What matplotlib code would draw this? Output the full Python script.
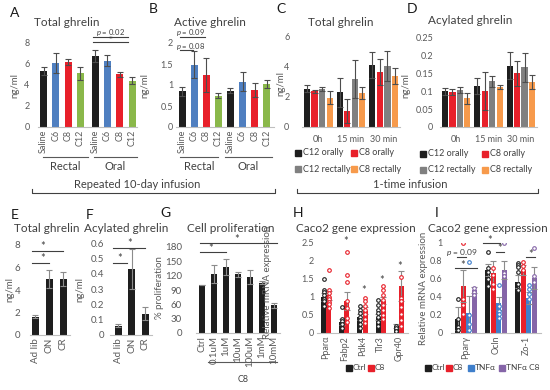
import matplotlib
matplotlib.use("Agg")
import matplotlib.pyplot as plt
from matplotlib.lines import Line2D
from matplotlib.patches import Rectangle
import numpy as np

plt.rcParams['font.family'] = ['Lato', 'DejaVu Sans']
plt.rcParams['mathtext.fontset'] = 'custom'
plt.rcParams['mathtext.it'] = 'Lato:italic'
plt.rcParams['mathtext.rm'] = 'Lato'

W, H = 550, 390

# ---------------- data ----------------
a_labels = ["Saline", "C6", "C8", "C12", "Saline", "C6", "C8", "C12"]
a_vals = [5.3, 6.1, 6.2, 5.1, 6.75, 6.3, 5.0, 4.4]
a_errs = [0.4, 0.95, 0.3, 0.6, 0.6, 0.55, 0.25, 0.35]

b_vals = [0.85, 1.48, 1.24, 0.75, 0.86, 1.08, 0.88, 1.02]
b_errs = [0.1, 0.32, 0.4, 0.05, 0.06, 0.22, 0.17, 0.1]

time_labels = ["0h", "15 min", "30 min"]
cd_series = ["C12 orally", "C8 orally", "C12 rectally", "C8 rectally"]
c_vals = [[2.55, 2.3, 4.13], [2.36, 1.07, 3.67], [2.53, 3.2, 4.07], [1.96, 2.24, 3.4]]
c_errs = [[0.25, 0.95, 0.85], [0.1, 0.8, 0.87], [0.15, 1.25, 1.0], [0.4, 0.4, 0.55]]
d_vals = [[0.1, 0.115, 0.172], [0.097, 0.1, 0.15], [0.103, 0.128, 0.167], [0.08, 0.112, 0.125]]
d_errs = [[0.01, 0.022, 0.037], [0.008, 0.053, 0.035], [0.008, 0.015, 0.04], [0.015, 0.006, 0.02]]

ef_labels = ["Ad lib", "ON", "CR"]
e_vals = [1.63, 4.98, 5.0]
e_errs = [0.15, 0.8, 0.6]
f_vals = [0.06, 0.43, 0.14]
f_errs = [0.01, 0.13, 0.04]

g_labels = ["Ctrl", "0.1uM", "1uM", "10uM", "100uM", "1mM", "10mM"]
g_vals = [100, 124, 138, 123, 117, 105, 58]
g_errs = [0, 19, 17, 5, 15, 3, 5]

h_genes = ["Pparα", "Fabp2", "Pdk4", "Tlr3", "Gpr40"]
h_ctrl = [1.0, 0.3, 0.45, 0.45, 0.2]
h_ctrl_err = [0.1, 0.08, 0.08, 0.08, 0.05]
h_c8 = [1.05, 0.9, 0.62, 0.9, 1.3]
h_c8_err = [0.12, 0.25, 0.1, 0.1, 0.42]
h_ctrl_pts = [[1.5, 1.2, 1.15, 1.05, 0.95, 0.9, 0.75],
              [0.72, 0.38, 0.33, 0.24, 0.15],
              [0.75, 0.65, 0.55, 0.45, 0.35, 0.25, 0.15],
              [0.92, 0.78, 0.65, 0.55, 0.45, 0.3, 0.2],
              [0.2, 0.13, 0.06]]
h_c8_pts = [[1.75, 1.2, 1.1, 1.0, 0.95, 0.85, 0.8, 0.7],
            [2.25, 1.62, 1.42, 0.9, 0.7, 0.42, 0.3],
            [0.97, 0.88, 0.76, 0.65, 0.53, 0.4, 0.27],
            [1.3, 1.2, 1.05, 0.92, 0.78, 0.63, 0.5, 0.4],
            [1.55, 0.97, 0.9, 0.72, 0.52, 0.35, 0.2]]
h_stars = [None, 2.53, 1.17, 1.45, 1.86]

i_genes = ["Pparγ", "Ocln", "Zo-1"]
i_groups = ["Ctrl", "C8", "TNFα", "TNFα C8"]
i_vals = [[0.16, 0.7, 0.57], [0.52, 0.67, 0.7], [0.22, 0.33, 0.39], [0.48, 0.7, 0.61]]
i_errs = [[0.13, 0.07, 0.07], [0.18, 0.13, 0.06], [0.19, 0.07, 0.07], [0.03, 0.1, 0.12]]
i_pts = [[[0.38, 0.16, 0.07, 0.03], [0.9, 0.72, 0.68, 0.6, 0.52], [0.78, 0.76, 0.73, 0.68, 0.55, 0.48]],
         [[1.0, 0.38, 0.31, 0.21], [0.72, 0.64, 0.55, 0.49], [0.79, 0.75, 0.7]],
         [[0.79, 0.2, 0.1, 0.03], [0.53, 0.3, 0.25, 0.21, 0.17], [0.53, 0.49, 0.43, 0.38]],
         [[0.5, 0.46, 0.42], [1.0, 0.67, 0.63], [0.95, 0.63, 0.57]]]

# ---------------- style ----------------
BLACK = '#1e1e1e'
BLUE = '#4f7fc0'
RED = '#e8202a'
GREEN = '#8ab84a'
GREY = '#808080'
ORANGE = '#f79a4b'
PURPLE = '#8565a8'
TXT = '#404040'
TICK = '#595959'

fig = plt.figure(figsize=(5.5, 3.9), dpi=100)


def px_axes(x0, y0, x1, y1):
    # pixel box left, top, right, bottom
    return fig.add_axes([x0 / W, 1 - y1 / H, (x1 - x0) / W, (y1 - y0) / H])


def ftext(x, y, s, **kw):
    kw.setdefault('ha', 'center')
    kw.setdefault('va', 'center')
    kw.setdefault('color', TXT)
    fig.text(x / W, 1 - y / H, s, **kw)


def fline(xs, ys, **kw):
    kw.setdefault('color', TXT)
    kw.setdefault('lw', 0.8)
    fig.add_artist(Line2D([x / W for x in xs], [1 - y / H for y in ys], **kw))


def legend_item(x, y, color, label, size=6.5, gap=8):
    # little square then label, x = left of square in pixels
    fig.add_artist(Rectangle((x / W, 1 - (y + 2.8) / H), 5.5 / W, 5.5 / H, color=color))
    ftext(x + gap, y, label, ha='left', fontsize=size)


def excel(ax, ymax, ticks, labels, size=6.5, pad=2):
    ax.set_ylim(0, ymax)
    ax.set_yticks(ticks)
    ax.set_yticklabels(labels)
    for s in ['top', 'right', 'left']:
        ax.spines[s].set_visible(False)
    ax.spines['bottom'].set_color('#bfbfbf')
    ax.spines['bottom'].set_linewidth(0.8)
    ax.tick_params(length=0, labelsize=size, colors=TICK, pad=2)
    ax.tick_params(axis='y', pad=pad)
    ax.patch.set_alpha(0)


def sig(ax, x0, x1, y, text, ty, tx=None, size=7):
    ax.plot([x0, x1], [y, y], color=TXT, lw=0.8, clip_on=False)
    if tx is None:
        tx = (x0 + x1) / 2
    ax.text(tx, ty, text, ha='center', va='center', fontsize=size, color=TXT, clip_on=False)


err_dark = dict(ecolor='#4d4d4d', elinewidth=0.8, capsize=2, capthick=0.8)
err_light = dict(ecolor='#8c8c8c', elinewidth=0.8, capsize=2, capthick=0.8)

# ---------------- A ----------------
a_x = [0, 1, 2, 3, 4.2, 5.2, 6.2, 7.2]
a_colors = [BLACK, BLUE, RED, GREEN] * 2
ax = px_axes(38, 42.7, 137, 127)
ax.bar(a_x, a_vals, width=0.58, color=a_colors, yerr=a_errs, error_kw=err_dark)
ax.set_xlim(-0.45, 7.6)
excel(ax, 8, [0, 2, 4, 6, 8], ['0', '2', '4', '6', '8'], pad=6)
ax.set_xticks(a_x)
ax.set_xticklabels(a_labels, rotation=90)
sig(ax, 4.0, 6.9, 8.58, r'$\it{p}$ = 0.02', 9.0, size=5.5)
sig(ax, 4.0, 6.9, 8.07, '*', 8.18, size=6.5)

# ---------------- B ----------------
b_x = np.arange(8)
ax = px_axes(176, 43, 274, 127)
ax.bar(b_x, b_vals, width=0.58, color=a_colors, yerr=b_errs, error_kw=err_dark)
ax.set_xlim(-0.5, 7.6)
excel(ax, 2, [0, 0.5, 1, 1.5, 2], ['0', '0.5', '1', '1.5', '2'])
ax.set_xticks(b_x)
ax.set_xticklabels(a_labels, rotation=90)
ax.plot([-0.17, 1.93], [2.14, 2.14], color=TXT, lw=0.8, clip_on=False)
ax.text(-0.5, 2.24, r'$\it{p}$ = 0.09', fontsize=5.5, color=TXT, ha='left', va='center')
ax.plot([-0.17, 0.92], [1.83, 1.83], color=TXT, lw=0.8, clip_on=False)
ax.text(-0.5, 1.91, r'$\it{p}$ = 0.08', fontsize=5.5, color=TXT, ha='left', va='center')

# ---------------- C & D ----------------
cd_colors = [BLACK, RED, GREY, ORANGE]
off = (np.arange(4) - 1.5) * 0.23
t_x = np.arange(3)

ax = px_axes(302, 36.7, 400, 127)
for k in range(4):
    ax.bar(t_x + off[k], c_vals[k], width=0.19, color=cd_colors[k], yerr=c_errs[k], error_kw=err_dark)
ax.set_xlim(-0.5, 2.5)
excel(ax, 6, [0, 2, 4, 6], ['0', '2', '4', '6'], pad=9)
ax.set_xticks(t_x)
ax.set_xticklabels(time_labels)
ax.tick_params(axis='x', pad=6)

ax = px_axes(440, 37.7, 537, 127)
for k in range(4):
    ax.bar(t_x + off[k], d_vals[k], width=0.19, color=cd_colors[k], yerr=d_errs[k], error_kw=err_dark)
ax.set_xlim(-0.5, 2.5)
excel(ax, 0.25, [0, 0.05, 0.1, 0.15, 0.2, 0.25], ['0', '0.05', '0.1', '0.15', '0.2', '0.25'], pad=5)
ax.set_xticks(t_x)
ax.set_xticklabels(time_labels)
ax.tick_params(axis='x', pad=6)

for (lx0, lx1, ly0, ly1) in [(295, 351, 153, 169), (420, 482, 154, 170)]:
    legend_item(lx0, ly0, cd_colors[0], cd_series[0])
    legend_item(lx1, ly0, cd_colors[1], cd_series[1])
    legend_item(lx0, ly1, cd_colors[2], cd_series[2])
    legend_item(lx1, ly1, cd_colors[3], cd_series[3])

# ---------------- E ----------------
ef_x = np.arange(3)
ax = px_axes(30, 245, 70, 335)
ax.bar(ef_x, e_vals, width=0.5, color=BLACK, yerr=e_errs, error_kw=err_light)
ax.set_xlim(-0.36, 2.5)
excel(ax, 8, [0, 2, 4, 6, 8], ['0', '2', '4', '6', '8'], size=7, pad=7)
ax.set_xticks(ef_x)
ax.set_xticklabels(ef_labels, rotation=90)
sig(ax, -0.2, 2.0, 7.49, '*', 7.9, tx=0.57, size=8)
sig(ax, -0.2, 1.0, 6.4, '*', 6.8, tx=0.57, size=8)

# ---------------- F ----------------
ax = px_axes(110, 243.3, 152, 335)
ax.bar(ef_x, f_vals, width=0.5, color=BLACK, yerr=f_errs, error_kw=err_light)
ax.set_xlim(-0.6, 2.5)
excel(ax, 0.6, [0, 0.1, 0.2, 0.3, 0.4, 0.5, 0.6], ['0', '0.1', '0.2', '0.3', '0.4', '0.5', '0.6'],
      size=7, pad=4)
ax.set_xticks(ef_x)
ax.set_xticklabels(ef_labels, rotation=90)
sig(ax, -0.37, 2.0, 0.57, '*', 0.6, tx=0.89, size=8)
sig(ax, -0.37, 0.67, 0.47, '*', 0.5, tx=0.15, size=8)

# ---------------- G ----------------
g_x = np.arange(7)
ax = px_axes(196, 247, 280, 333)
ax.bar(g_x, g_vals, width=0.58, color=BLACK, yerr=g_errs, error_kw=err_light)
ax.set_xlim(-0.5, 6.5)
excel(ax, 180, [0, 30, 60, 90, 120, 150, 180], ['0', '30', '60', '90', '120', '150', '180'],
      size=7, pad=10)
ax.set_xticks(g_x)
ax.set_xticklabels(g_labels, rotation=90)
sig(ax, -0.17, 6.25, 188, '*', 196, tx=2.9, size=8)
sig(ax, -0.17, 2.0, 169, '*', 176, tx=0.75, size=8)
fline([208, 277], [362, 362], color='#595959')
ftext(243, 380, 'C8', fontsize=6.5)

# ---------------- H ----------------
h_x = np.arange(5)
ax = px_axes(317, 243, 408, 333)
ax.bar(h_x - 0.14, h_ctrl, width=0.27, color=BLACK, yerr=h_ctrl_err, error_kw=err_light)
ax.bar(h_x + 0.14, h_c8, width=0.27, color=RED, yerr=h_c8_err, error_kw=err_light)
for g in range(5):
    ax.plot([g - 0.14] * len(h_ctrl_pts[g]), h_ctrl_pts[g], 'o', ms=2.6, mfc='white', mec=BLACK, mew=0.8)
    ax.plot([g + 0.14] * len(h_c8_pts[g]), h_c8_pts[g], 'o', ms=2.6, mfc='white', mec=RED, mew=0.8)
    if h_stars[g] is not None:
        ax.text(g + 0.07, h_stars[g], '*', ha='center', va='center', fontsize=8, color=TXT)
ax.set_xlim(-0.5, 4.5)
excel(ax, 2.5, [0, 0.5, 1, 1.5, 2, 2.5], ['0', '0.5', '1', '1.5', '2', '2.5'])
ax.set_xticks(h_x)
ax.set_xticklabels(h_genes, rotation=90)
legend_item(346, 368, BLACK, 'Ctrl', size=6, gap=7)
legend_item(368, 368, RED, 'C8', size=6, gap=7)

# ---------------- I ----------------
i_x = np.arange(3)
i_colors = [BLACK, RED, '#3f7fcb', PURPLE]
i_off = (np.arange(4) - 1.5) * 0.18
ax = px_axes(451, 243, 541, 333)
for k in range(4):
    ax.bar(i_x + i_off[k], i_vals[k], width=0.17, color=i_colors[k], yerr=i_errs[k], error_kw=err_light)
    for g in range(3):
        ax.plot([g + i_off[k]] * len(i_pts[k][g]), i_pts[k][g], 'o', ms=2.6, mfc='white',
                mec=i_colors[k], mew=0.8)
ax.set_xlim(-0.5, 2.5)
excel(ax, 1, [0, 0.2, 0.4, 0.6, 0.8, 1], ['0', '0.2', '0.4', '0.6', '0.8', '1'], pad=6)
ax.set_xticks(i_x)
ax.set_xticklabels(i_genes, rotation=90)
sig(ax, -0.3, 0.0, 0.85, r'$\it{p}$ = 0.09', 0.89, size=6)
sig(ax, -0.37, 0.37, 0.72, '*', 0.755, tx=-0.1, size=8)
sig(ax, 0.57, 1.13, 1.0, '*', 1.025, tx=0.8, size=8)
sig(ax, 1.0, 1.27, 0.9, '*', 0.935, size=8)
sig(ax, 2.0, 2.3, 0.84, '*', 0.875, size=8)
for k, lx in enumerate([425, 446, 468, 499]):
    legend_item(lx, 368, i_colors[k], i_groups[k], size=6, gap=7)

# ---------------- panel letters, titles, y labels ----------------
for letter, x, y in [('A', 15, 13), ('B', 153, 9), ('C', 281, 9), ('D', 412, 9),
                     ('E', 15, 215), ('F', 90, 215), ('G', 165, 213), ('H', 298, 213), ('I', 437, 213)]:
    ftext(x, y, letter, fontsize=10, color='#1a1a1a')

for title, x, y in [('Total ghrelin', 67, 23), ('Active ghrelin', 210, 22), ('Total ghrelin', 341, 22),
                    ('Acylated ghrelin', 470, 20), ('Total ghrelin', 47, 229), ('Acylated ghrelin', 126, 229),
                    ('Cell proliferation', 231, 229), ('Caco2 gene expression', 356, 229),
                    ('Caco2 gene expression', 488, 229)]:
    ftext(x, y, title, fontsize=8.5, color=TXT)

for lab, x, y in [('ng/ml', 15, 85), ('ng/ml', 145, 85), ('ng/ml', 281, 83), ('ng/ml', 406, 85),
                  ('ng/ml', 10, 290), ('ng/ml', 80, 290), ('% proliferation', 159, 288),
                  ('Relative mRNA expression', 267, 282), ('Relative mRNA expression', 423, 288)]:
    ftext(x, y, lab, fontsize=7, rotation=90, color=TICK)

# ---------------- group brackets ----------------
for x0, x1, lab in [(43, 88, 'Rectal'), (94, 137, 'Oral'), (180, 218, 'Rectal'), (225, 272, 'Oral')]:
    fline([x0, x1], [157, 157], color='#595959')
    ftext((x0 + x1) / 2, 167, lab, fontsize=8)

fline([32, 32, 275, 275], [189, 193, 193, 189])
ftext(137, 185, 'Repeated 10-day infusion', fontsize=8)
fline([297, 297, 538, 538], [189, 193, 193, 189])
ftext(410, 185, '1-time infusion', fontsize=8)

fig.savefig('out.png', dpi=100)
